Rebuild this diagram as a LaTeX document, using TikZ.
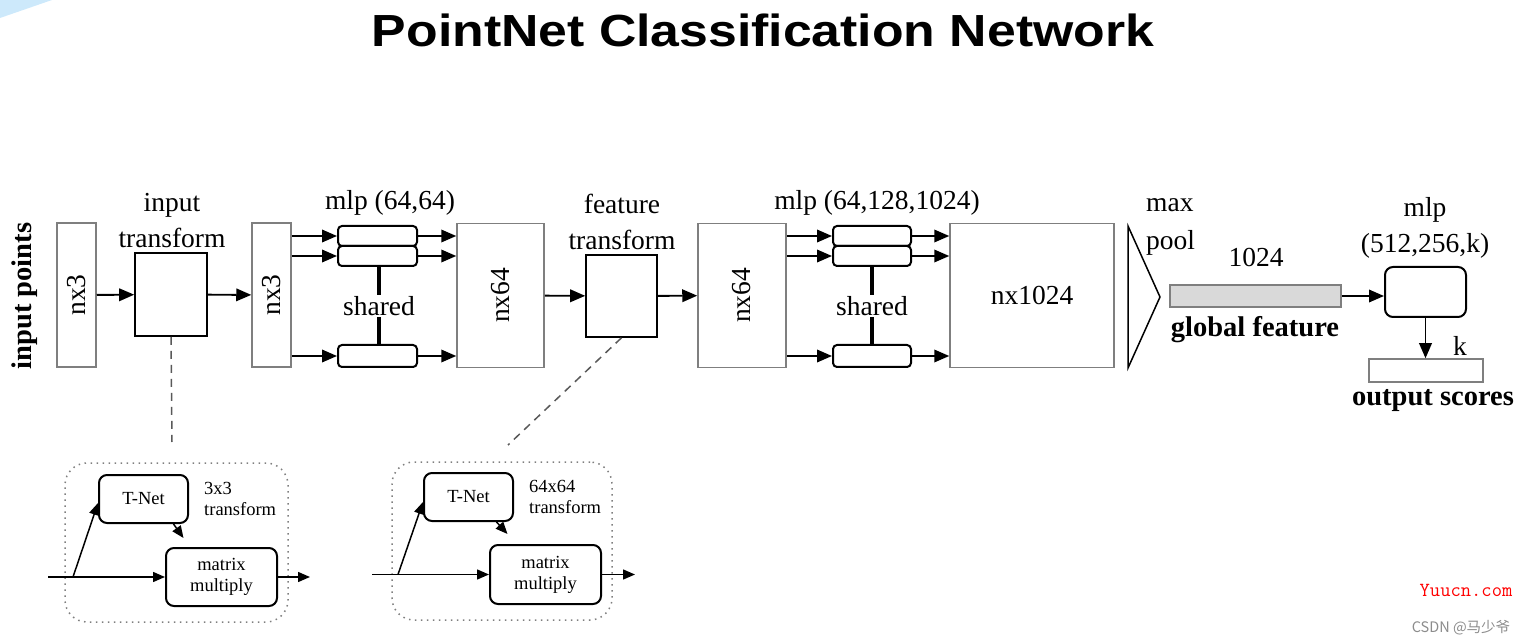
\documentclass[tikz,border=0pt]{standalone}
\usepackage{fontspec}
\setmainfont{Liberation Serif}
\newfontfamily\titlefont{Liberation Sans}
\newfontfamily\cjk{Noto Sans CJK SC}
\usetikzlibrary{arrows.meta,positioning}
\definecolor{boxgray}{HTML}{7F7F7F}
\definecolor{barfill}{HTML}{D9D9D9}
\definecolor{cornerblue}{HTML}{CDE9FB}

\begin{document}
\begin{tikzpicture}[x=1pt,y=-1pt,
  lbl/.style={font=\fontsize{27.5}{36}\selectfont,inner sep=0pt,align=center},
  bold/.style={font=\fontsize{28.5}{32}\selectfont\bfseries,inner sep=0pt},
  small/.style={font=\fontsize{18.5}{20.5}\selectfont,inner sep=0pt,align=left},
  tensor/.style={draw=boxgray,line width=1.5pt,minimum width=#1,minimum height=144pt,inner sep=0pt,font=\fontsize{27.5}{32}\selectfont},
  tbox/.style={draw,line width=1.6pt,inner sep=0pt},
  layer/.style={draw,line width=2pt,rounded corners=4pt,minimum width=79pt,minimum height=20pt,inner sep=0pt},
  tnet/.style={draw,line width=2pt,rounded corners=8pt,inner sep=0pt,align=center,font=\fontsize{18.5}{21}\selectfont},
  frame/.style={draw=boxgray,line width=1.5pt,dash pattern=on 1.5pt off 4.5pt,rounded corners=22pt},
  flow/.style={draw,line width=1.9pt,-{Triangle[length=15pt,width=12.5pt]}},
  tflow/.style={draw,line width=1.5pt,-{Triangle[length=12pt,width=10pt]}},
  link/.style={draw=black!65,line width=1.5pt,dash pattern=on 8pt off 6pt}]
\useasboundingbox (0,0) rectangle (1527,644);
\fill[cornerblue] (0,0) -- (52,0) -- (0,18) -- cycle;
\node[inner sep=0pt,anchor=base,font=\titlefont\bfseries\fontsize{45}{50}\selectfont] (0) at (763,47) {\scalebox{1.15}[1]{PointNet Classification Network}};

% main network
\node[bold,rotate=90] (1) at (25,296) {input points};
\node[tensor=39pt] (2) at (76.5,295) {\rotatebox{90}{nx3}};
\node[tbox,minimum width=72pt,minimum height=83pt] (3) at (171,294.5) {};
\node[lbl] (4) at (172,221) {input\\transform};
\node[tensor=39pt] (5) at (271.5,295) {\rotatebox{90}{nx3}};
\node[lbl] (6) at (390,203) {mlp (64,64)};
\node[layer] (7) at (377.5,236) {};
\node[layer] (8) at (377.5,256) {};
\node[layer,minimum height=22pt] (9) at (377.5,356) {};
\node[lbl,inner sep=1.5pt] (10) at (379,306) {shared};
\node[tensor=87pt] (11) at (500.5,295.5) {\rotatebox{90}{nx64}};
\node[tbox,minimum width=71pt,minimum height=82pt] (12) at (621.5,296) {};
\node[lbl] (13) at (622,222) {feature\\transform};
\node[tensor=88pt] (14) at (742,295.5) {\rotatebox{90}{nx64}};
\node[lbl] (15) at (877,203) {mlp (64,128,1024)};
\node[layer,minimum width=78pt] (16) at (872,236) {};
\node[layer,minimum width=78pt] (17) at (872,256) {};
\node[layer,minimum width=78pt,minimum height=22pt] (18) at (872,356) {};
\node[lbl,inner sep=1.5pt] (19) at (872,306) {shared};
\node[tensor=164pt] (20) at (1032,295.5) {nx1024};
\draw[line width=1.5pt] (1128,226) -- (1160,297) -- (1128,368) -- cycle;
\node[lbl,align=left,anchor=west,font=\fontsize{27.5}{38}\selectfont] (21) at (1146,227) {max\\pool};
\node[lbl] (22) at (1256,257) {1024};
\node[draw=boxgray,fill=barfill,line width=1.5pt,minimum width=171pt,minimum height=22pt,inner sep=0pt] (23) at (1255.5,296) {};
\node[bold] (24) at (1255,330) {global feature};
\node[lbl] (25) at (1425,228) {mlp\\(512,256,k)};
\node[draw,line width=2pt,rounded corners=8pt,minimum width=81pt,minimum height=50pt,inner sep=0pt] (26) at (1425.5,292) {};
\node[lbl] (27) at (1460,346) {k};
\node[draw=boxgray,line width=1.5pt,minimum width=114pt,minimum height=23pt,inner sep=0pt] (28) at (1426,370.5) {};
\node[bold] (29) at (1433,401) {output scores};

\path[flow] (2) -- (3);
\path[flow] (3) -- (5);
\path[flow] (5.east |- 7) -- (7);
\path[flow] (5.east |- 8) -- (8);
\path[flow] (5.east |- 9) -- (9);
\path[flow] (7) -- (7 -| 11.west);
\path[flow] (8) -- (8 -| 11.west);
\path[flow] (9) -- (9 -| 11.west);
\path[draw,line width=3.5pt] (10.north |- 8.south) -- (10.north);
\path[draw,line width=3.5pt] (10.south) -- (10.south |- 9.north);
\path[flow] (11) -- (12);
\path[flow] (12) -- (14);
\path[flow] (14.east |- 16) -- (16);
\path[flow] (14.east |- 17) -- (17);
\path[flow] (14.east |- 18) -- (18);
\path[flow] (16) -- (16 -| 20.west);
\path[flow] (17) -- (17 -| 20.west);
\path[flow] (18) -- (18 -| 20.west);
\path[draw,line width=3.5pt] (19.north |- 17.south) -- (19.north);
\path[draw,line width=3.5pt] (19.south) -- (19.south |- 18.north);
\path[flow] (23.east) -- (26.west |- 23.east);
\path[flow] (26.south) -- (26.south |- 28.north);

% input transform detail
\coordinate (30) at (172,442);
\path[link] (3.south) -- (30);
\node[frame,minimum width=223pt,minimum height=159pt] (31) at (176.5,542.5) {};
\node[tnet,minimum width=89pt,minimum height=48pt] (32) at (143.5,499) {T-Net};
\node[small,right=15pt of 32] (33) {3x3\\transform};
\node[tnet,minimum width=111pt,minimum height=58pt] (34) at (221.5,577) {matrix\\multiply};
\coordinate (35) at (48,577);
\coordinate (36) at (73,577);
\coordinate (37) at (310,577);
\path[tflow] (35) -- (34);
\path[tflow] (36) -- ([yshift=-4pt]32.west);
\path[tflow] ([xshift=30pt]32.south) -- ([xshift=-38pt,yshift=9pt]34.north);
\path[tflow] (34) -- (37);

% feature transform detail
\coordinate (38) at (508,445);
\path[link] (12.south) -- (38);
\node[frame,minimum width=220pt,minimum height=158pt] (39) at (502,541) {};
\node[tnet,minimum width=89pt,minimum height=48pt] (40) at (468.5,497) {T-Net};
\node[small,right=15pt of 40] (41) {64x64\\transform};
\node[tnet,minimum width=111pt,minimum height=59pt] (42) at (545.5,574.5) {matrix\\multiply};
\coordinate (43) at (372,574.5);
\coordinate (44) at (398,574.5);
\coordinate (45) at (635,574.5);
\path[tflow] (43) -- (42);
\path[tflow] (44) -- ([yshift=-5pt]40.west);
\path[tflow] ([xshift=28pt]40.south) -- ([xshift=-38pt,yshift=10pt]42.north);
\path[tflow] (42) -- (45);

\node[text=red,font=\ttfamily\fontsize{20}{22}\selectfont,inner sep=0pt] (46) at (1466,590) {Yuucn.com};
\node[text=black!45,font=\cjk\fontsize{14.5}{16}\selectfont,inner sep=0pt] (47) at (1461,628) {CSDN @马少爷};
\end{tikzpicture}
\end{document}
